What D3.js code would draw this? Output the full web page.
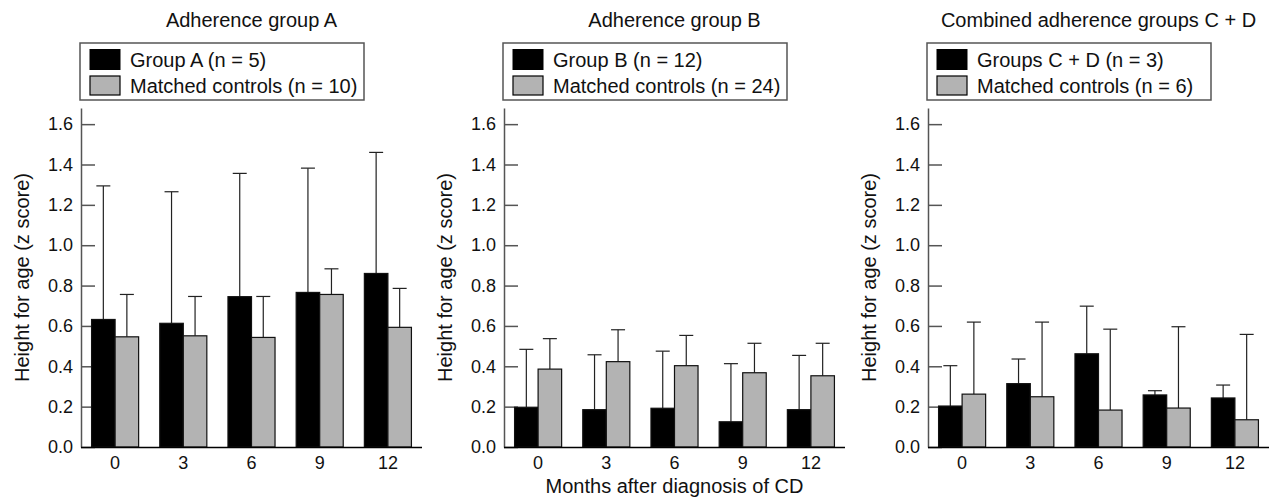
<!DOCTYPE html>
<html>
<head>
<meta charset="utf-8">
<script src="https://cdn.jsdelivr.net/npm/d3@7"></script>
<style>
  html, body { margin: 0; padding: 0; background: #fff; }
  svg { display: block; font-family: "Liberation Sans", Arial, sans-serif; }
</style>
</head>
<body>
<svg id="chart" width="1269" height="501"></svg>
<script>
// ---- Data ----
const months = ["0", "3", "6", "9", "12"];
const yTicks = [0, 0.2, 0.4, 0.6, 0.8, 1.0, 1.2, 1.4, 1.6];

const panelTitles = ["Adherence group A", "Adherence group B", "Combined adherence groups C + D"];
const groupLabels = ["Group A (n = 5)", "Group B (n = 12)", "Groups C + D (n = 3)"];
const controlLabels = ["Matched controls (n = 10)", "Matched controls (n = 24)", "Matched controls (n = 6)"];

const groupA = [0.632, 0.613, 0.745, 0.766, 0.860];
const groupAUpper = [1.294, 1.265, 1.356, 1.382, 1.460];
const controlA = [0.546, 0.551, 0.543, 0.756, 0.593];
const controlAUpper = [0.756, 0.746, 0.746, 0.883, 0.786];

const groupB = [0.197, 0.185, 0.192, 0.125, 0.185];
const groupBUpper = [0.484, 0.457, 0.475, 0.413, 0.454];
const controlB = [0.386, 0.423, 0.403, 0.368, 0.353];
const controlBUpper = [0.537, 0.581, 0.553, 0.514, 0.514];

const groupCD = [0.203, 0.314, 0.462, 0.258, 0.243];
const groupCDUpper = [0.403, 0.436, 0.698, 0.279, 0.307];
const controlCD = [0.262, 0.249, 0.183, 0.193, 0.135];
const controlCDUpper = [0.619, 0.619, 0.584, 0.596, 0.558];

const yLabel = "Height for age (z score)";
const xLabel = "Months after diagnosis of CD";

// ---- Layout ----
const svg = d3.select("#chart");
const panelLeft = [81, 504, 928];
const panelWidth = 341;
const yTop = 108, yBottom = 447;
const series = ["group", "control"];
const fills = { group: "#000000", control: "#b3b3b3" };

const panels = [
  { group: groupA, groupUp: groupAUpper, control: controlA, controlUp: controlAUpper },
  { group: groupB, groupUp: groupBUpper, control: controlB, controlUp: controlBUpper },
  { group: groupCD, groupUp: groupCDUpper, control: controlCD, controlUp: controlCDUpper }
];

const y = d3.scaleLinear().domain([0, 1.68]).range([yBottom, yTop]);

panels.forEach((p, i) => {
  const left = panelLeft[i];
  const g = svg.append("g");

  const x0 = d3.scaleBand().domain(months)
    .range([left, left + panelWidth]).paddingInner(0.31).paddingOuter(0.155);
  const x1 = d3.scaleBand().domain(series).range([0, x0.bandwidth()]);

  // title
  g.append("text")
    .attr("x", left + panelWidth / 2).attr("y", 27)
    .attr("text-anchor", "middle").attr("font-size", 20).attr("fill", "#111")
    .text(panelTitles[i]);

  // legend
  const lg = g.append("g");
  lg.append("rect").attr("x", left - 1).attr("y", 43).attr("width", 284).attr("height", 57)
    .attr("fill", "none").attr("stroke", "#555").attr("stroke-width", 1.5);
  lg.append("rect").attr("x", left + 9).attr("y", 49.5).attr("width", 30).attr("height", 20)
    .attr("fill", "#000").attr("stroke", "#000").attr("stroke-width", 1);
  lg.append("rect").attr("x", left + 9).attr("y", 76).attr("width", 30).attr("height", 19)
    .attr("fill", "#b3b3b3").attr("stroke", "#000").attr("stroke-width", 1.2);
  lg.append("text").attr("x", left + 49).attr("y", 66.5).attr("font-size", 20).attr("fill", "#111")
    .text(groupLabels[i]);
  lg.append("text").attr("x", left + 49).attr("y", 92.5).attr("font-size", 20).attr("fill", "#111")
    .text(controlLabels[i]);

  // y axis
  const yAxis = d3.axisLeft(y).tickValues(yTicks).tickFormat(d3.format(".1f"))
    .tickSizeInner(-14).tickSizeOuter(0).tickPadding(8);
  const ya = g.append("g").attr("transform", `translate(${left},0)`).call(yAxis);
  ya.select(".domain").attr("stroke", "#555").attr("stroke-width", 1.5);
  ya.selectAll(".tick line").attr("stroke", "#555").attr("stroke-width", 1.5);
  ya.selectAll(".tick text").attr("font-size", 18).attr("fill", "#111")
    .attr("font-family", "Liberation Sans, Arial, sans-serif");

  // y label
  g.append("text")
    .attr("transform", `translate(${left - 52},${277.5}) rotate(-90)`)
    .attr("text-anchor", "middle").attr("font-size", 20).attr("fill", "#111")
    .text(yLabel);

  // bars
  months.forEach((m, j) => {
    series.forEach(s => {
      const v = p[s][j];
      const up = p[s + "Up"][j];
      const bx = x0(m) + x1(s);
      const bw = x1.bandwidth();
      const cx = bx + bw / 2;
      // error bar (upper)
      g.append("line").attr("x1", cx).attr("x2", cx).attr("y1", y(v)).attr("y2", y(up))
        .attr("stroke", "#222").attr("stroke-width", 1.2);
      g.append("line").attr("x1", cx - 7).attr("x2", cx + 7).attr("y1", y(up)).attr("y2", y(up))
        .attr("stroke", "#222").attr("stroke-width", 1.2);
      g.append("rect").attr("x", bx).attr("y", y(v)).attr("width", bw).attr("height", y(0) - y(v))
        .attr("fill", fills[s]).attr("stroke", "#111").attr("stroke-width", 1.2);
    });
  });

  // x axis
  const xAxis = d3.axisBottom(x0).tickSize(0).tickPadding(9);
  const xa = g.append("g").attr("transform", `translate(0,${yBottom})`).call(xAxis);
  xa.select(".domain").attr("stroke", "#000").attr("stroke-width", 1.5)
    .attr("d", `M${left},0.5H${left + panelWidth}`);
  xa.selectAll(".tick text").attr("font-size", 18).attr("fill", "#111")
    .attr("font-family", "Liberation Sans, Arial, sans-serif");
});

// shared x label
svg.append("text")
  .attr("x", panelLeft[1] + panelWidth / 2).attr("y", 493)
  .attr("text-anchor", "middle").attr("font-size", 20).attr("fill", "#111")
  .text(xLabel);
</script>
</body>
</html>
